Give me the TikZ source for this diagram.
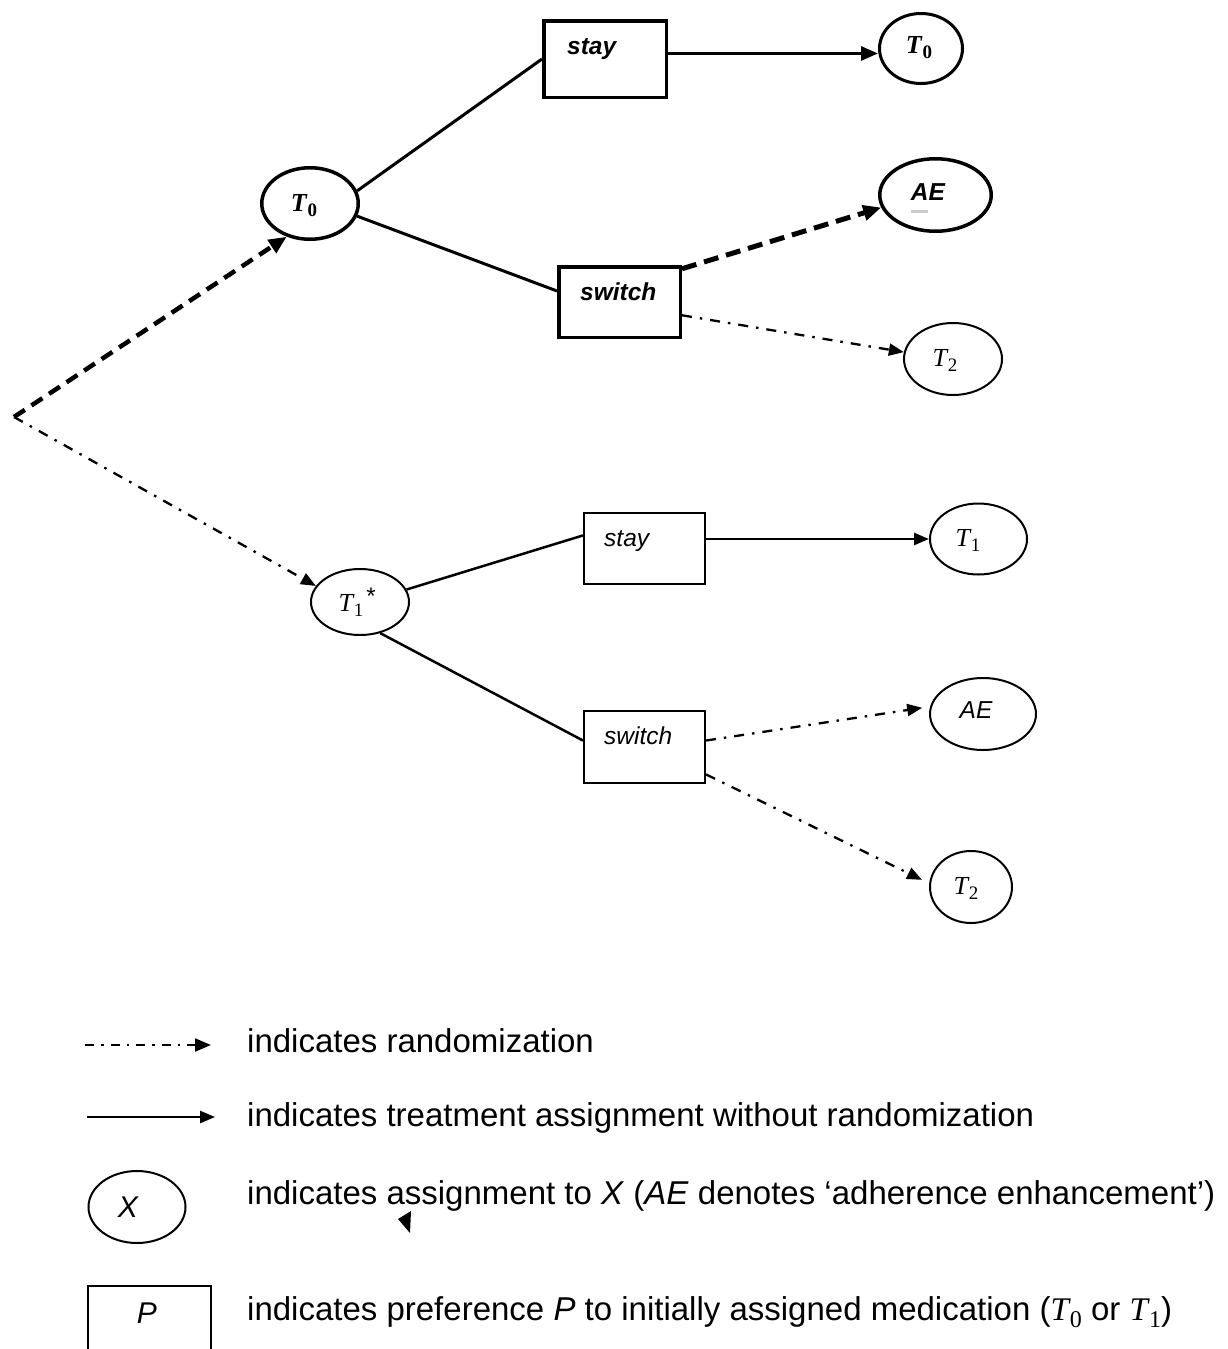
\documentclass[tikz,border=0pt]{standalone}
\usepackage{fontspec}
\setmainfont{Liberation Sans}
\newfontfamily\mathserif{Liberation Serif}
\usetikzlibrary{arrows.meta,shapes.geometric}
% #1 subscript, #2 subscript size, #3 drop
\newcommand{\Tsub}[3]{{\mathserif\itshape T}\kern1pt\raisebox{-#3}{\fontsize{#2}{#2}\mathserif\upshape #1}}
\begin{document}
\begin{tikzpicture}[x=1pt,y=-1pt,
  nodetxt/.style={font=\fontsize{24.5}{28}\selectfont\itshape, inner sep=0pt, anchor=base west},
  boldtxt/.style={font=\fontsize{24.5}{28}\selectfont\bfseries\itshape, inner sep=0pt, anchor=base west},
  mathtxt/.style={font=\fontsize{26}{30}\selectfont, inner sep=0pt},
  legtxt/.style={font=\fontsize{33}{40}\selectfont, inner sep=0pt, anchor=base west},
  boldbox/.style={draw, rectangle, line width=3.5pt, inner sep=0pt},
  thinbox/.style={draw, rectangle, line width=2pt, inner sep=0pt},
  boldell/.style={draw, ellipse, line width=3.5pt, inner sep=0pt},
  thinell/.style={draw, ellipse, line width=2pt, inner sep=0pt},
  boldline/.style={line width=3pt},
  thinline/.style={line width=2.5pt},
  boldarr/.style={line width=3pt, -{Triangle[length=17pt,width=14pt]}},
  thinarr/.style={line width=2.5pt, -{Triangle[length=15pt,width=12pt]}},
  bolddashed/.style={line width=4.5pt, dash pattern=on 13pt off 8pt, -{Triangle[length=18pt,width=15pt]}},
  heavydashed/.style={line width=5pt, dash pattern=on 15pt off 8pt, -{Triangle[length=18pt,width=15pt]}},
  randarr/.style={line width=2.3pt, dash pattern=on 10pt off 8pt on 2.5pt off 8pt, -{Triangle[length=15pt,width=12pt]}},
  legrand/.style={line width=2.3pt, dash pattern=on 9pt off 7pt on 2.5pt off 7pt, -{Triangle[length=16pt,width=13pt]}}
]
\clip (0,0) rectangle (1227,1349);
\fill[white] (0,0) rectangle (1227,1349);

% start point
\coordinate (S) at (14,417);

% upper branch
\node[boldell, minimum width=96.5pt, minimum height=71.5pt] (t0u) at (310,203.5) {};
\node[mathtxt] (t0uL) at (304,206) {\bfseries\Tsub{0}{19}{5pt}};

\node[boldbox, minimum width=122.5pt, minimum height=76.5pt] (stayU) at (605,59) {};
\node[boldtxt] (stayUL) at (567,54) {stay};

\node[boldbox, minimum width=121.5pt, minimum height=70.5pt] (swU) at (619.5,302) {};
\node[boldtxt] (swUL) at (580,300) {switch};

\node[draw, ellipse, line width=3pt, inner sep=0pt, minimum width=83pt, minimum height=70pt] (t0r) at (921,48.5) {};
\node[mathtxt] (t0rL) at (919,48) {\bfseries\Tsub{0}{19}{5pt}};

\node[boldell, minimum width=111.5pt, minimum height=72.5pt] (aeU) at (935.5,195) {};
\node[font=\fontsize{24.5}{28}\selectfont\bfseries\itshape, inner sep=0pt] (aeUL) at (928,192) {AE};
\fill[gray!40] (911,209.5) rectangle (928,212.5);

\node[thinell, minimum width=98pt, minimum height=72pt] (t2u) at (953,359) {};
\node[mathtxt] (t2uL) at (945,360) {\Tsub{2}{19}{5pt}};

% lower branch
\node[thinell, minimum width=98pt, minimum height=66pt] (t1s) at (360,602) {};
\node[mathtxt] (t1sL) at (351,605) {\Tsub{1}{19}{5pt}};
\node[font=\fontsize{24}{28}\selectfont, inner sep=0pt] (t1sStar) at (371,596) {*};

\node[thinbox, minimum width=121pt, minimum height=71pt] (stayL) at (644.5,548.5) {};
\node[nodetxt] (stayLL) at (604,546) {stay};

\node[thinbox, minimum width=121pt, minimum height=72pt] (swL) at (644.5,747) {};
\node[nodetxt] (swLL) at (604,744) {switch};

\node[thinell, minimum width=97pt, minimum height=71pt] (t1l) at (978.5,539) {};
\node[mathtxt] (t1lL) at (968,540) {\Tsub{1}{19}{5pt}};

\node[thinell, minimum width=106pt, minimum height=72pt] (aeL) at (983,714) {};
\node[font=\fontsize{24.5}{28}\selectfont\itshape, inner sep=0pt] (aeLL) at (976,710) {AE};

\node[thinell, minimum width=82pt, minimum height=72pt] (t2l) at (971,887) {};
\node[mathtxt] (t2lL) at (966,888) {\Tsub{2}{19}{5pt}};

% connectors
\draw[bolddashed] (S) -- (t0u.235);
\draw[randarr] (S) -- (t1s.160);
\draw[boldline] (t0u.15) -- (stayU.west);
\draw[boldline] (t0u.-15) -- (swU.170);
\draw[boldarr] (stayU.5) -- (stayU.5 -| t0r.west);
\draw[heavydashed] (swU.28) -- (aeU.193);
\draw[randarr] (swU.-12) -- (t2u.172);
\draw[thinline] (t1s.15) -- (stayL.168);
\draw[thinline] (t1s.-57) -- (swL.174);
\draw[thinarr] (stayL.east |- t1l.west) -- (t1l.west);
\draw[randarr, shorten >=8pt] (swL.6) -- (aeL.172);
\draw[randarr, shorten >=8pt] (swL.-24) -- (t2l.175);

% legend
\coordinate (l1a) at (85,1045);
\coordinate (l1b) at (211,1045);
\draw[legrand] (l1a) -- (l1b);
\node[legtxt] (leg1) at (247,1052) {indicates randomization};

\coordinate (l2a) at (87,1117);
\coordinate (l2b) at (215,1117);
\draw[thinarr, line width=2.5pt] (l2a) -- (l2b);
\node[legtxt] (leg2) at (247,1126) {indicates treatment assignment without randomization};

\node[thinell, minimum width=97pt, minimum height=72pt] (legX) at (137,1207) {};
\node[font=\fontsize{30}{36}\selectfont\itshape, inner sep=0pt] (legXL) at (128,1207) {X};
\node[legtxt] (leg3) at (247,1204) {indicates assignment to \textit{X} (\textit{AE} denotes ‘adherence enhancement’)};
\fill (398,1219) -- (411,1211) -- (410,1233) -- cycle;

\node[thinbox, minimum width=123pt, minimum height=78pt] (legP) at (149.5,1325) {};
\node[font=\fontsize{30}{36}\selectfont\itshape, inner sep=0pt] (legPL) at (147,1313) {P};
\node[legtxt] (leg4) at (247,1320) {indicates preference \textit{P} to initially assigned medication (\Tsub{0}{24}{7pt} or \Tsub{1}{24}{7pt})};
\end{tikzpicture}
\end{document}
